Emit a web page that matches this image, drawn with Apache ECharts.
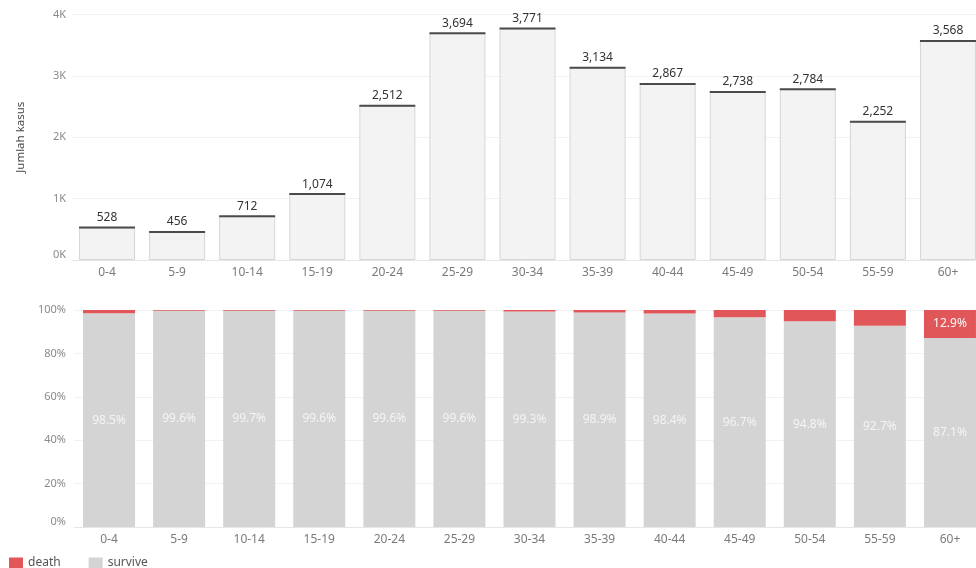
<!DOCTYPE html>
<html>
<head>
<meta charset="utf-8">
<script src="https://cdn.jsdelivr.net/npm/echarts@6/dist/echarts.min.js"></script>
<style>
  html, body { margin: 0; padding: 0; background: #fff; overflow: hidden; }
  #chart { width: 976px; height: 568px; }
</style>
</head>
<body>
<div id="chart"></div>
<script>
// Age groups
const ageGroups = ['0-4', '5-9', '10-14', '15-19', '20-24', '25-29', '30-34', '35-39', '40-44', '45-49', '50-54', '55-59', '60+'];
// Total cases per age group
const cases = [528, 456, 712, 1074, 2512, 3694, 3771, 3134, 2867, 2738, 2784, 2252, 3568];
// Outcome shares (%) per age group
const survivePct = [98.5, 99.6, 99.7, 99.6, 99.6, 99.6, 99.3, 98.9, 98.4, 96.7, 94.8, 92.7, 87.1];
const deathPct = [1.5, 0.4, 0.3, 0.4, 0.4, 0.4, 0.7, 1.1, 1.6, 3.3, 5.2, 7.3, 12.9];
// Axis tick labels
const caseTicks = ['0K', '1K', '2K', '3K', '4K'];

const FONT = '"Noto Sans", "Open Sans", sans-serif';
const chart = echarts.init(document.getElementById('chart'), null, { renderer: 'canvas' });

const catAxisBase = {
  type: 'category',
  data: ageGroups,
  axisTick: { show: false },
  axisLine: { show: true, lineStyle: { color: '#e6e6e6', width: 1 } },
  axisLabel: { color: '#7a7a7a', fontSize: 12, fontFamily: FONT, margin: 7 }
};

chart.setOption({
  animation: false,
  textStyle: { fontFamily: FONT },
  // the plot runs slightly past the right edge of the page
  grid: [
    { left: 72, width: 911, top: 14.5, bottom: 308, outerBoundsMode: 'none', containLabel: false },
    { left: 74, width: 911, top: 310, bottom: 41, outerBoundsMode: 'none', containLabel: false }
  ],
  xAxis: [
    Object.assign({ gridIndex: 0 }, catAxisBase),
    Object.assign({ gridIndex: 1 }, catAxisBase)
  ],
  yAxis: [
    {
      gridIndex: 0, type: 'value', min: 0, max: 4000, interval: 1000,
      name: 'Jumlah kasus', nameLocation: 'middle', nameGap: 45,
      nameTextStyle: { color: '#444', fontSize: 11.5, fontFamily: FONT },
      axisLine: { show: false }, axisTick: { show: false },
      axisLabel: {
        color: '#8a8a8a', fontSize: 11, fontFamily: FONT, margin: 6,
        verticalAlignMinLabel: 'bottom',
        formatter: v => caseTicks[v / 1000]
      },
      splitLine: { lineStyle: { color: '#f1f1f1', width: 1 } }
    },
    {
      gridIndex: 1, type: 'value', min: 0, max: 100, interval: 20,
      axisLine: { show: false }, axisTick: { show: false },
      axisLabel: {
        color: '#8a8a8a', fontSize: 11, fontFamily: FONT, margin: 8,
        verticalAlignMinLabel: 'bottom',
        formatter: '{value}%'
      },
      splitLine: { lineStyle: { color: '#f1f1f1', width: 1 } }
    }
  ],
  legend: {
    left: 9, top: 557, padding: 0,
    icon: 'rect', itemWidth: 14, itemHeight: 11, itemGap: 28,
    textStyle: { color: '#555', fontSize: 12, fontFamily: FONT },
    data: ['death', 'survive']
  },
  series: [
    {
      name: 'cases', type: 'bar', xAxisIndex: 0, yAxisIndex: 0,
      data: cases, barWidth: 56,
      itemStyle: { color: '#f3f3f3', borderColor: '#d6d6d6', borderWidth: 1 },
      label: {
        show: true, position: 'top', distance: 4,
        color: '#333', fontSize: 12, fontFamily: FONT,
        formatter: p => p.value.toLocaleString('en-US')
      },
      z: 2
    },
    {
      name: 'cases-top', type: 'pictorialBar', xAxisIndex: 0, yAxisIndex: 0,
      data: cases, symbol: 'rect', symbolSize: [56, 2],
      symbolPosition: 'end', symbolOffset: [0, '-50%'],
      itemStyle: { color: '#4a4a4a' },
      z: 3, silent: true
    },
    {
      name: 'survive', type: 'bar', stack: 'pct', xAxisIndex: 1, yAxisIndex: 1,
      data: survivePct, barWidth: 52,
      itemStyle: { color: '#d4d4d4' },
      label: {
        show: true, position: 'inside',
        color: '#f4f4f4', fontSize: 12, fontFamily: FONT,
        formatter: p => p.value.toFixed(1) + '%'
      }
    },
    {
      name: 'death', type: 'bar', stack: 'pct', xAxisIndex: 1, yAxisIndex: 1,
      data: deathPct.map(v => ({
        value: v,
        label: { show: v >= 10 }
      })),
      barWidth: 52,
      itemStyle: { color: '#e15759' },
      label: {
        position: 'inside',
        color: '#fafafa', fontSize: 12, fontFamily: FONT,
        formatter: p => p.value.toFixed(1) + '%'
      }
    }
  ]
});
</script>
</body>
</html>
